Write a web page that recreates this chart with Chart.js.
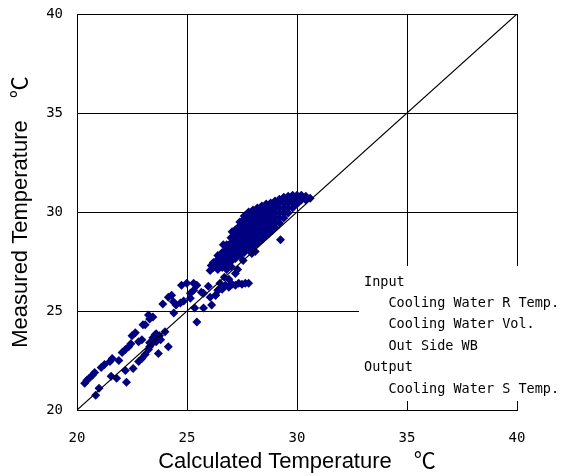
<!DOCTYPE html>
<html>
<head>
<meta charset="utf-8">
<script src="https://cdn.jsdelivr.net/npm/chart.js@4"></script>
<style>
  html, body { margin: 0; padding: 0; background: #fff; }
  #wrap { width: 562px; height: 476px; }
</style>
</head>
<body>
<div id="wrap"><canvas id="chart" width="562" height="476"></canvas></div>
<script>
// axis ticks
const xTicks = [20, 25, 30, 35, 40];
const yTicks = [20, 25, 30, 35, 40];

// reference line (calculated = measured)
const diagonal = [[20, 20], [40, 40]];

// sparse points, lower left
const lowPoints = [
  [20.35, 21.35], [20.45, 21.5], [20.55, 21.6], [20.7, 21.75], [20.8, 21.9], [21.1, 22.15],
  [21.25, 22.3], [21.5, 22.45], [21.6, 22.6], [21.9, 22.5], [22.05, 22.9], [22.2, 23.05],
  [22.35, 23.2], [22.45, 23.35], [22.5, 23.75], [22.65, 23.9], [22.8, 23.45], [22.95, 23.55],
  [23.0, 24.3], [23.1, 24.3], [23.25, 24.8], [23.3, 24.6], [23.45, 24.7],
  [20.85, 20.75], [21.0, 21.1], [21.55, 21.7], [21.8, 21.6], [22.25, 21.4], [22.2, 22.0],
  [22.55, 22.1], [22.8, 22.45], [22.95, 22.6], [23.1, 22.8], [23.25, 23.05], [23.3, 23.2],
  [23.45, 23.5], [23.6, 23.6], [23.55, 23.8], [23.7, 23.7], [23.4, 23.35], [23.7, 22.85],
  [24.15, 23.2], [24.0, 23.95], [23.3, 23.4], [23.45, 23.65], [23.6, 23.85], [23.75, 23.75],
  [23.6, 23.45], [23.8, 23.55]
];

// sparse points, middle
const midPoints = [
  [23.9, 25.35], [24.15, 25.7], [24.3, 25.8], [24.38, 25.47], [24.4, 24.9], [24.5, 25.3],
  [24.7, 25.4], [24.85, 25.5], [24.75, 26.3], [24.99, 26.4], [25.3, 26.4], [25.45, 26.3],
  [25.15, 25.9], [25.3, 26.05], [25.15, 25.65], [25.65, 25.95], [25.75, 25.9], [25.35, 25.15],
  [25.75, 25.15], [25.45, 24.45], [25.97, 26.25], [26.05, 25.7], [26.12, 25.3], [26.3, 25.8],
  [26.42, 26.05], [26.3, 25.8], [26.4, 26.05], [26.5, 26.4], [26.6, 26.1], [26.75, 26.3],
  [26.9, 26.2], [27.05, 26.35], [27.2, 26.3], [27.35, 26.4], [27.5, 26.35], [27.65, 26.4],
  [27.8, 26.4], [26.7, 26.7], [26.9, 26.6], [27.2, 26.9], [27.3, 27.1], [27.55, 27.55],
  [27.95, 27.9], [28.1, 28.0], [26.65, 28.35], [27.05, 29.0], [29.25, 28.6], [26.05, 27.05],
  [26.1, 27.3]
];

// dense cluster
const densePoints = [
  [26.2, 27.2], [26.2, 27.45],
  [26.4, 27.1], [26.4, 27.35], [26.4, 27.6], [26.4, 27.8],
  [26.6, 27.2], [26.6, 27.45], [26.6, 27.7], [26.6, 27.95],
  [26.8, 27.1], [26.8, 27.35], [26.8, 27.6], [26.8, 27.85], [26.8, 28.1], [26.8, 28.35],
  [27.0, 27.25], [27.0, 27.5], [27.0, 27.75], [27.0, 28.0], [27.0, 28.25], [27.0, 28.45], [27.0, 28.7],
  [27.2, 27.65], [27.2, 27.9], [27.2, 28.15], [27.2, 28.4], [27.2, 28.65], [27.2, 28.85], [27.2, 29.1],
  [27.4, 27.8], [27.4, 28.05], [27.4, 28.3], [27.4, 28.55], [27.4, 28.8], [27.4, 29.05], [27.4, 29.3], [27.4, 29.5],
  [27.6, 27.95], [27.6, 28.2], [27.6, 28.45], [27.6, 28.7], [27.6, 28.95], [27.6, 29.2], [27.6, 29.45], [27.6, 29.65], [27.6, 29.8],
  [27.8, 28.1], [27.8, 28.35], [27.8, 28.6], [27.8, 28.85], [27.8, 29.1], [27.8, 29.35], [27.8, 29.6], [27.8, 29.8], [27.8, 30.0],
  [28.0, 28.25], [28.0, 28.5], [28.0, 28.75], [28.0, 29.0], [28.0, 29.25], [28.0, 29.5], [28.0, 29.75], [28.0, 29.95], [28.0, 30.1],
  [28.2, 28.4], [28.2, 28.65], [28.2, 28.9], [28.2, 29.15], [28.2, 29.4], [28.2, 29.65], [28.2, 29.9], [28.2, 30.05], [28.2, 30.2],
  [28.4, 28.6], [28.4, 28.85], [28.4, 29.1], [28.4, 29.35], [28.4, 29.6], [28.4, 29.85], [28.4, 30.1], [28.4, 30.3],
  [28.6, 28.8], [28.6, 29.05], [28.6, 29.3], [28.6, 29.55], [28.6, 29.8], [28.6, 30.05], [28.6, 30.2], [28.6, 30.4],
  [28.8, 29.0], [28.8, 29.25], [28.8, 29.5], [28.8, 29.75], [28.8, 30.0], [28.8, 30.25], [28.8, 30.45],
  [29.0, 29.2], [29.0, 29.45], [29.0, 29.7], [29.0, 29.95], [29.0, 30.2], [29.0, 30.35], [29.0, 30.55],
  [29.2, 29.45], [29.2, 29.7], [29.2, 29.95], [29.2, 30.2], [29.2, 30.45], [29.2, 30.65],
  [29.4, 29.7], [29.4, 29.95], [29.4, 30.2], [29.4, 30.45], [29.4, 30.6], [29.4, 30.75],
  [29.6, 29.95], [29.6, 30.2], [29.6, 30.45], [29.6, 30.65], [29.6, 30.8],
  [29.8, 30.2], [29.8, 30.45], [29.8, 30.7], [29.8, 30.85],
  [30.0, 30.4], [30.0, 30.65], [30.0, 30.85],
  [30.2, 30.6], [30.2, 30.85],
  [30.4, 30.6], [30.4, 30.8],
  [30.6, 30.7]
];

// text box
const noteLines = [
  'Input',
  '   Cooling Water R Temp.',
  '   Cooling Water Vol.',
  '   Out Side WB',
  'Output',
  '   Cooling Water S Temp.'
];

const toXY = arr => arr.map(p => ({ x: p[0], y: p[1] }));
const scatterData = toXY(lowPoints.concat(midPoints, densePoints));

const tickFont = { family: "'DejaVu Sans Mono', monospace", size: 14 };
const titleFont = { family: "'Liberation Sans', 'Noto Sans CJK JP', sans-serif", size: 22 };

// white note box with the model inputs/outputs
const notePlugin = {
  id: 'noteBox',
  afterDraw(chart) {
    const ctx = chart.ctx;
    ctx.save();
    ctx.fillStyle = '#fff';
    ctx.fillRect(359, 266, 162, 135);
    ctx.fillStyle = '#000';
    ctx.font = "13.5px 'DejaVu Sans Mono', monospace";
    ctx.textBaseline = 'middle';
    noteLines.forEach((line, i) => {
      ctx.fillText(line, 364, 282 + i * 21.4);
    });
    ctx.restore();
  }
};

new Chart(document.getElementById('chart'), {
  type: 'scatter',
  data: {
    datasets: [
      {
        type: 'line',
        data: toXY(diagonal),
        borderColor: '#000',
        borderWidth: 1.2,
        pointRadius: 0,
        fill: false
      },
      {
        data: scatterData,
        pointStyle: 'rectRot',
        pointRadius: 4.5,
        backgroundColor: '#000080',
        borderColor: '#000080',
        borderWidth: 0
      }
    ]
  },
  options: {
    responsive: false,
    animation: false,
    events: [],
    layout: { padding: { top: 14, right: 45, left: 0, bottom: 0 } },
    plugins: {
      legend: { display: false },
      tooltip: { enabled: false }
    },
    scales: {
      x: {
        type: 'linear',
        min: 20,
        max: 40,
        afterBuildTicks: s => { s.ticks = xTicks.map(v => ({ value: v })); },
        afterFit: s => { s.height = 66; s.paddingLeft = 0; s.paddingRight = 0; },
        grid: { color: '#000', lineWidth: 1, drawTicks: false },
        border: { color: '#000', width: 1 },
        ticks: { color: '#000', font: tickFont, padding: 20, maxRotation: 0 },
        title: {
          display: true,
          text: 'Calculated Temperature\u3000℃',
          color: '#000',
          font: titleFont,
          padding: { top: 0, bottom: 1 }
        }
      },
      y: {
        type: 'linear',
        min: 20,
        max: 40,
        afterBuildTicks: s => { s.ticks = yTicks.map(v => ({ value: v })); },
        afterFit: s => { s.width = 77; s.paddingTop = 0; s.paddingBottom = 0; },
        grid: { color: '#000', lineWidth: 1, drawTicks: false },
        border: { color: '#000', width: 1 },
        ticks: { color: '#000', font: tickFont, padding: 14 },
        title: {
          display: true,
          text: 'Measured Temperature\u3000℃',
          color: '#000',
          font: titleFont,
          padding: { top: 8, bottom: 0 }
        }
      }
    }
  },
  plugins: [notePlugin]
});
</script>
</body>
</html>
